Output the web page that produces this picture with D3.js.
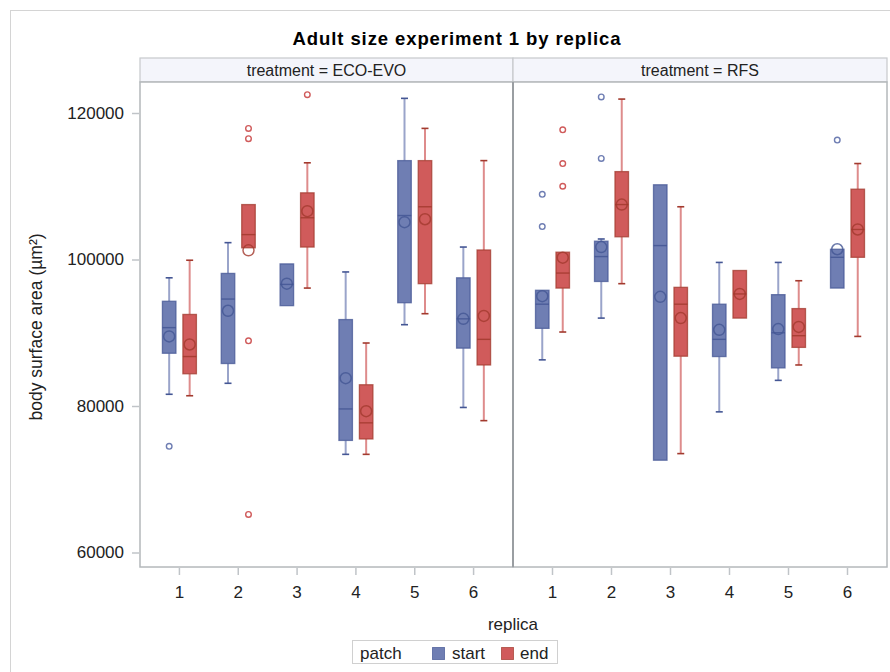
<!DOCTYPE html>
<html>
<head>
<meta charset="utf-8">
<script src="https://cdn.jsdelivr.net/npm/d3@7/dist/d3.min.js"></script>
<style>
  html, body { margin: 0; padding: 0; background: #fff; }
  svg { display: block; font-family: "Liberation Sans", Arial, sans-serif; }
</style>
</head>
<body>
<svg id="chart" width="890" height="672"></svg>
<script>
// ---- data -------------------------------------------------------------
const replicas = ["1", "2", "3", "4", "5", "6"];
const treatments = ["ECO-EVO", "RFS"];
const patches = ["start", "end"];
const yTicks = [60000, 80000, 100000, 120000];

// box statistics per replica: [low whisker, Q1, median, Q3, high whisker, mean]
const ecoEvoStart = [
  [81600, 87200, 90700, 94300, 97500, 89500],
  [83100, 85800, 94600, 98100, 102300, 93000],
  [93700, 93700, 96600, 99400, 99400, 96700],
  [73400, 75300, 79600, 91800, 98300, 83800],
  [91100, 94100, 106000, 113500, 122000, 105100],
  [79800, 87900, 91900, 97500, 101700, 91900]
];
const ecoEvoEnd = [
  [81400, 84400, 86750, 92500, 99900, 88400],
  [101600, 101600, 103400, 107500, 107500, 101250],
  [96100, 101700, 105700, 109100, 113200, 106600],
  [73400, 75500, 77700, 82900, 88600, 79300],
  [92600, 96700, 107200, 113500, 117900, 105500],
  [78000, 85600, 89100, 101300, 113500, 92300]
];
const rfsStart = [
  [86300, 90600, 93900, 95800, 95800, 95000],
  [92000, 97000, 100400, 102500, 102800, 101700],
  [72600, 72600, 101900, 110200, 110200, 94900],
  [79200, 86750, 89100, 93900, 99600, 90400],
  [83500, 85200, 90000, 95200, 99600, 90500],
  [96100, 96100, 100300, 101400, 101400, 101400]
];
const rfsEnd = [
  [90100, 96100, 98150, 101000, 101000, 100250],
  [96700, 103100, 107500, 112000, 121900, 107500],
  [73500, 86800, 93900, 96200, 107200, 92000],
  [92000, 92000, 95300, 98500, 98500, 95300],
  [85600, 88000, 89600, 93300, 97100, 90800],
  [89500, 100300, 104100, 109600, 113100, 104100]
];

// outliers per replica
const ecoEvoStartOut = [[74500], [], [], [], [], []];
const ecoEvoEndOut = [[], [117900, 116500, 88900, 65200], [122500], [], [], []];
const rfsStartOut = [[108900, 104500], [122200, 113800], [], [], [], [116300]];
const rfsEndOut = [[117700, 113100, 110000], [], [], [], [], []];

// ---- assemble ----------------------------------------------------------
const statsByGroup = {
  "ECO-EVO": { start: ecoEvoStart, end: ecoEvoEnd },
  "RFS": { start: rfsStart, end: rfsEnd }
};
const outByGroup = {
  "ECO-EVO": { start: ecoEvoStartOut, end: ecoEvoEndOut },
  "RFS": { start: rfsStartOut, end: rfsEndOut }
};
const boxes = [];
treatments.forEach(t => patches.forEach(p => replicas.forEach((r, i) => {
  const s = statsByGroup[t][p][i];
  boxes.push({ treatment: t, patch: p, replica: r,
    lo: s[0], q1: s[1], med: s[2], q3: s[3], hi: s[4], mean: s[5],
    outliers: outByGroup[t][p][i] });
})));

// ---- layout ------------------------------------------------------------
const W = 890, H = 672;
const plotTop = 82, plotBottom = 567;
const panelX = [[140, 513], [513, 887]];
const stripTop = 58;
const labelSize = 17;

const fillColor = { start: "#6F7EB3", end: "#D05B5B" };
const lineColor = { start: "#445694", end: "#A23A2E" };

const svg = d3.select("#chart");

// outer frame
svg.append("rect").attr("x", 10.5).attr("y", 10.5).attr("width", W).attr("height", H)
  .attr("fill", "none").attr("stroke", "#d4d4d4");

// title
svg.append("text").attr("x", 457).attr("y", 45).attr("text-anchor", "middle")
  .attr("font-size", 18.5).attr("font-weight", "bold").attr("letter-spacing", 0.9)
  .attr("fill", "#000")
  .text("Adult size experiment 1 by replica");

const y = d3.scaleLinear().domain([60000, 120000]).range([552.5, 113]);

treatments.forEach((t, ti) => {
  const [x0, x1] = panelX[ti];
  const x = d3.scaleBand().domain(replicas).range([x0 + 10, x1 - 10]);
  const xi = d3.scaleBand().domain(patches).range([0, 34]).paddingInner(0.34);
  const g = svg.append("g");

  // strip header
  g.append("rect").attr("x", x0).attr("y", stripTop).attr("width", x1 - x0)
    .attr("height", plotTop - stripTop).attr("fill", "#F4F5FB")
    .attr("stroke", "#c6c9cc").attr("stroke-width", 1.2);
  g.append("text").attr("x", (x0 + x1) / 2).attr("y", plotTop - 6.5)
    .attr("text-anchor", "middle").attr("font-size", 16).attr("fill", "#222")
    .text("treatment = " + t);

  // panel frame
  g.append("rect").attr("x", x0).attr("y", plotTop).attr("width", x1 - x0)
    .attr("height", plotBottom - plotTop).attr("fill", "#fff")
    .attr("stroke", "#b4b8bb").attr("stroke-width", 1.5);

  // x axis
  const xAxis = d3.axisBottom(x).tickSize(7).tickPadding(11);
  const ax = g.append("g").attr("transform", `translate(0,${plotBottom + 1})`).call(xAxis);
  ax.select(".domain").remove();
  ax.selectAll(".tick line").attr("stroke", "#c0c4c8").attr("stroke-width", 1.5);
  ax.selectAll(".tick text").attr("font-size", labelSize).attr("fill", "#222")
    .attr("font-family", "Liberation Sans, Arial, sans-serif");

  const data = boxes.filter(b => b.treatment === t);
  const cx = b => x(b.replica) + x.bandwidth() / 2 - 17 + xi(b.patch) + xi.bandwidth() / 2;
  const bw = xi.bandwidth();

  const bg = g.selectAll("g.box").data(data).join("g").attr("class", "box");

  // whiskers
  bg.append("line").attr("x1", cx).attr("x2", cx)
    .attr("y1", b => y(b.hi)).attr("y2", b => y(b.q3))
    .attr("stroke", b => fillColor[b.patch]).attr("stroke-opacity", 0.7).attr("stroke-width", 2);
  bg.append("line").attr("x1", cx).attr("x2", cx)
    .attr("y1", b => y(b.q1)).attr("y2", b => y(b.lo))
    .attr("stroke", b => fillColor[b.patch]).attr("stroke-opacity", 0.7).attr("stroke-width", 2);
  // whisker caps
  bg.filter(b => b.hi > b.q3).append("line")
    .attr("x1", b => cx(b) - 3.5).attr("x2", b => cx(b) + 3.5)
    .attr("y1", b => y(b.hi)).attr("y2", b => y(b.hi))
    .attr("stroke", b => lineColor[b.patch]).attr("stroke-width", 1.6);
  bg.filter(b => b.lo < b.q1).append("line")
    .attr("x1", b => cx(b) - 3.5).attr("x2", b => cx(b) + 3.5)
    .attr("y1", b => y(b.lo)).attr("y2", b => y(b.lo))
    .attr("stroke", b => lineColor[b.patch]).attr("stroke-width", 1.6);

  // boxes
  bg.append("rect").attr("x", b => cx(b) - bw / 2).attr("width", bw)
    .attr("y", b => y(b.q3)).attr("height", b => y(b.q1) - y(b.q3))
    .attr("fill", b => fillColor[b.patch])
    .attr("stroke", b => lineColor[b.patch]).attr("stroke-opacity", 0.75).attr("stroke-width", 1.3);

  // medians
  bg.append("line").attr("x1", b => cx(b) - bw / 2).attr("x2", b => cx(b) + bw / 2)
    .attr("y1", b => y(b.med)).attr("y2", b => y(b.med))
    .attr("stroke", b => lineColor[b.patch]).attr("stroke-opacity", 0.85).attr("stroke-width", 1.4);

  // means
  bg.append("circle").attr("cx", cx).attr("cy", b => y(b.mean)).attr("r", 5.5)
    .attr("fill", "none").attr("stroke", b => lineColor[b.patch])
    .attr("stroke-opacity", 0.8).attr("stroke-width", 1.5);

  // outliers
  bg.selectAll("circle.out").data(b => b.outliers.map(v => ({ v, b }))).join("circle")
    .attr("class", "out").attr("cx", d => cx(d.b)).attr("cy", d => y(d.v)).attr("r", 2.8)
    .attr("fill", "none").attr("stroke", d => fillColor[d.b.patch]).attr("stroke-width", 1.4);
});

// divider between panels
svg.append("line").attr("x1", 513).attr("x2", 513).attr("y1", plotTop).attr("y2", plotBottom)
  .attr("stroke", "#9a9ea2").attr("stroke-width", 2);

// y axis
const yAxis = d3.axisLeft(y).tickValues(yTicks).tickSize(7).tickPadding(8).tickFormat(d3.format("d"));
const ay = svg.append("g").attr("transform", "translate(139,0)").call(yAxis);
ay.select(".domain").remove();
ay.selectAll(".tick line").attr("stroke", "#c0c4c8").attr("stroke-width", 1.5);
ay.selectAll(".tick text").attr("font-size", labelSize).attr("fill", "#222")
  .attr("font-family", "Liberation Sans, Arial, sans-serif");

// axis labels
svg.append("text").attr("transform", "translate(42,327) rotate(-90)")
  .attr("text-anchor", "middle").attr("font-size", 17.5).attr("fill", "#222")
  .text("body surface area (µm²)");
svg.append("text").attr("x", 513).attr("y", 630).attr("text-anchor", "middle")
  .attr("font-size", labelSize).attr("fill", "#222").text("replica");

// legend
const lg = svg.append("g");
lg.append("rect").attr("x", 352.5).attr("y", 640.5).attr("width", 205).attr("height", 23)
  .attr("fill", "#fff").attr("stroke", "#d0d0d0");
lg.append("text").attr("x", 360).attr("y", 658.5).attr("font-size", labelSize).attr("fill", "#222").text("patch");
const legendItems = [{ p: "start", sx: 432, tx: 452 }, { p: "end", sx: 501, tx: 520 }];
legendItems.forEach(it => {
  lg.append("rect").attr("x", it.sx + 0.5).attr("y", 647.5).attr("width", 12).attr("height", 12)
    .attr("fill", fillColor[it.p]).attr("stroke", lineColor[it.p]).attr("stroke-opacity", 0.7);
  lg.append("text").attr("x", it.tx).attr("y", 658.5).attr("font-size", labelSize).attr("fill", "#222").text(it.p);
});
</script>
</body>
</html>
